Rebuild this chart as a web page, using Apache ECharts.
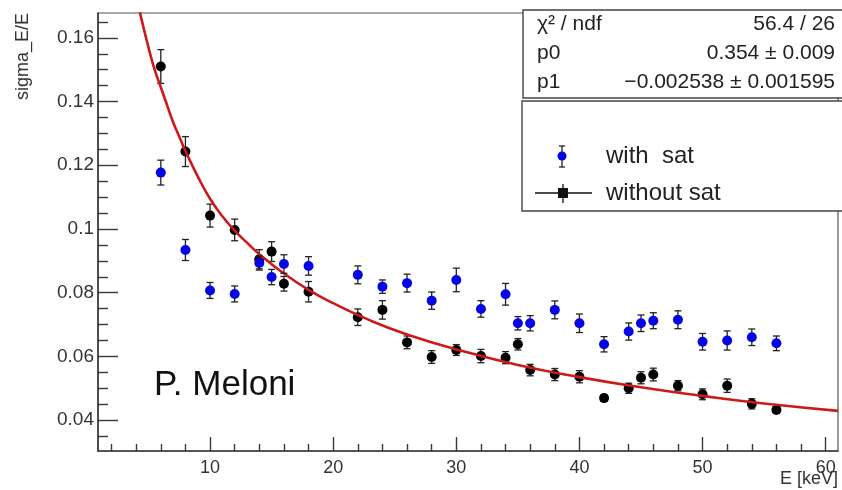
<!DOCTYPE html>
<html>
<head>
<meta charset="utf-8">
<script src="https://cdn.jsdelivr.net/npm/echarts@6/dist/echarts.min.js"></script>
<style>
html,body{margin:0;padding:0;background:#fff;}
#c{width:842px;height:490px;}
</style>
</head>
<body>
<div id="c"></div>
<script>
// ---- data ----
const energies = [6, 8, 10, 12, 14, 15, 16, 18, 22, 24, 26, 28, 30, 32, 34, 35, 36, 38, 40, 42, 44, 45, 46, 48, 50, 52, 54, 56];
const withoutSat = [0.151, 0.1243, 0.1042, 0.0997, 0.0905, 0.0929, 0.0828, 0.0803, 0.0723, 0.0746, 0.0644, 0.0598, 0.0620, 0.0601, 0.0596, 0.0638, 0.0557, 0.0543, 0.0536, 0.0469, 0.0500, 0.0533, 0.0543, 0.0508, 0.0481, 0.0508, 0.0451, 0.0432];
const withoutSatErr = [0.0053, 0.0047, 0.0036, 0.0034, 0.003, 0.0031, 0.0023, 0.0032, 0.0026, 0.0029, 0.002, 0.002, 0.0017, 0.0021, 0.0019, 0.0018, 0.0018, 0.0019, 0.0019, 0.001, 0.0016, 0.0019, 0.002, 0.0016, 0.0017, 0.0021, 0.0016, 0.001];
const withSat = [0.1177, 0.0934, 0.0807, 0.0796, 0.0893, 0.0849, 0.0890, 0.0884, 0.0856, 0.0819, 0.0830, 0.0775, 0.0840, 0.0749, 0.0795, 0.0704, 0.0704, 0.0746, 0.0704, 0.0638, 0.0678, 0.0704, 0.0712, 0.0715, 0.0646, 0.0650, 0.0660, 0.0641];
const withSatErr = [0.0039, 0.0033, 0.0025, 0.0025, 0.0022, 0.0024, 0.0029, 0.0029, 0.0028, 0.0021, 0.0028, 0.0027, 0.0037, 0.0026, 0.0034, 0.0021, 0.0024, 0.0028, 0.0029, 0.0024, 0.0027, 0.0026, 0.0025, 0.0028, 0.0026, 0.003, 0.0026, 0.0023];
// fit curve
const fitE = [4.3, 5, 5.5, 6, 6.5, 7, 7.5, 8, 9, 10, 11, 12, 13, 14, 16, 18, 20, 23, 26, 30, 35, 40, 45, 50, 55, 61];
const fitV = [0.168, 0.157, 0.150, 0.1445, 0.139, 0.1335, 0.129, 0.1245, 0.1165, 0.1095, 0.104, 0.0995, 0.0957, 0.0921, 0.086, 0.0809, 0.0767, 0.0713, 0.0669, 0.0622, 0.0573, 0.0535, 0.0503, 0.0476, 0.0452, 0.0429];
// axis ticks
const xMajor = [10, 20, 30, 40, 50, 60];
const xMinor = [2, 4, 6, 8, 12, 14, 16, 18, 22, 24, 26, 28, 32, 34, 36, 38, 42, 44, 46, 48, 52, 54, 56, 58];
const yMajor = [0.04, 0.06, 0.08, 0.1, 0.12, 0.14, 0.16];
const yMinor = [0.035, 0.045, 0.05, 0.055, 0.065, 0.07, 0.075, 0.085, 0.09, 0.095, 0.105, 0.11, 0.115, 0.125, 0.13, 0.135, 0.145, 0.15, 0.155, 0.165];
const xRange = [0.9, 61];
const yRange = [0.0303, 0.1678];

const FONT = '"Liberation Sans", Arial, Helvetica, sans-serif';
const AX = '#3a3a3a';

function errItem(color) {
  return function (params, api) {
    const x = api.value(0), y = api.value(1), e = api.value(2);
    const t = api.coord([x, y + e]), b = api.coord([x, y - e]);
    const cap = 3.5;
    const st = { stroke: color, lineWidth: 1.3 };
    return {
      type: 'group',
      children: [
        { type: 'line', shape: { x1: t[0], y1: t[1], x2: b[0], y2: b[1] }, style: st },
        { type: 'line', shape: { x1: t[0] - cap, y1: t[1], x2: t[0] + cap, y2: t[1] }, style: st },
        { type: 'line', shape: { x1: b[0] - cap, y1: b[1], x2: b[0] + cap, y2: b[1] }, style: st }
      ]
    };
  };
}

const blackPts = energies.map((e, i) => [e, withoutSat[i], withoutSatErr[i]]);
const bluePts = energies.map((e, i) => [e, withSat[i], withSatErr[i]]);
const fitPts = fitE.map((e, i) => [e, fitV[i]]);

const chart = echarts.init(document.getElementById('c'), null, { renderer: 'canvas' });
const baseX = {
  type: 'value', min: xRange[0], max: xRange[1], position: 'bottom',
  splitLine: { show: false }
};
const baseY = {
  type: 'value', min: yRange[0], max: yRange[1], position: 'left',
  splitLine: { show: false }
};
chart.setOption({
  animation: false,
  backgroundColor: '#ffffff',
  grid: { left: 98, right: 4, top: 13, bottom: 39, show: true, borderColor: '#555', borderWidth: 1.2, backgroundColor: 'transparent' },
  xAxis: [
    Object.assign({}, baseX, {
      axisLine: { show: true, lineStyle: { color: AX, width: 1.6 } },
      axisTick: { show: true, inside: true, length: 14, customValues: xMajor, lineStyle: { color: AX, width: 1.4 } },
      axisLabel: { show: true, customValues: xMajor, margin: 8, fontSize: 18, color: '#333', fontFamily: FONT }
    }),
    Object.assign({}, baseX, {
      axisLine: { show: false },
      axisTick: { show: true, inside: true, length: 7, customValues: xMinor, lineStyle: { color: AX, width: 1.4 } },
      axisLabel: { show: false }
    })
  ],
  yAxis: [
    Object.assign({}, baseY, {
      axisLine: { show: true, lineStyle: { color: AX, width: 1.6 } },
      axisTick: { show: true, inside: true, length: 20, customValues: yMajor, lineStyle: { color: AX, width: 1.4 } },
      axisLabel: { show: true, customValues: yMajor, margin: 4, fontSize: 19, color: '#333', fontFamily: FONT }
    }),
    Object.assign({}, baseY, {
      axisLine: { show: false },
      axisTick: { show: true, inside: true, length: 10, customValues: yMinor, lineStyle: { color: AX, width: 1.4 } },
      axisLabel: { show: false }
    })
  ],
  series: [
    { type: 'custom', name: 'errBlack', renderItem: errItem('#222'), data: blackPts, encode: { x: 0, y: 1 }, z: 2 },
    { type: 'scatter', name: 'without sat', data: blackPts, symbol: 'circle', symbolSize: 10, itemStyle: { color: '#000', opacity: 1 }, z: 3 },
    { type: 'line', name: 'fit', data: fitPts, smooth: 0.5, showSymbol: false, symbol: 'none', lineStyle: { color: '#cc1a1a', width: 2.6 }, z: 4 },
    { type: 'custom', name: 'errBlue', renderItem: errItem('#222'), data: bluePts, encode: { x: 0, y: 1 }, z: 5 },
    { type: 'scatter', name: 'with sat', data: bluePts, symbol: 'circle', symbolSize: 10, itemStyle: { color: '#0505e6', opacity: 1 }, z: 6 }
  ],
  graphic: [
    // y axis title
    { type: 'text', x: 23, y: 13, rotation: Math.PI / 2, z: 50,
      style: { text: 'sigma_E/E', fontSize: 18, fontFamily: FONT, fill: '#333', align: 'right', verticalAlign: 'middle' } },
    // x axis title
    { type: 'text', x: 838, y: 479, z: 50,
      style: { text: 'E [keV]', fontSize: 18, fontFamily: FONT, fill: '#333', align: 'right', verticalAlign: 'middle' } },
    // author annotation
    { type: 'text', x: 154, y: 385, z: 50,
      style: { text: 'P. Meloni', fontSize: 35, fontFamily: FONT, fill: '#111', align: 'left', verticalAlign: 'middle' } },
    // stats box
    { type: 'rect', z: 60, shape: { x: 523, y: 10, width: 330, height: 88 }, style: { fill: '#fff', stroke: '#444', lineWidth: 1.4 } },
    { type: 'text', z: 61, x: 537, y: 24, style: { text: 'χ² / ndf', fontSize: 21, fontFamily: FONT, fill: '#222', align: 'left', verticalAlign: 'middle' } },
    { type: 'text', z: 61, x: 835, y: 24, style: { text: '56.4 / 26', fontSize: 21, fontFamily: FONT, fill: '#222', align: 'right', verticalAlign: 'middle' } },
    { type: 'text', z: 61, x: 537, y: 53, style: { text: 'p0', fontSize: 21, fontFamily: FONT, fill: '#222', align: 'left', verticalAlign: 'middle' } },
    { type: 'text', z: 61, x: 835, y: 53, style: { text: '0.354 ± 0.009', fontSize: 21, fontFamily: FONT, fill: '#222', align: 'right', verticalAlign: 'middle' } },
    { type: 'text', z: 61, x: 537, y: 82, style: { text: 'p1', fontSize: 21, fontFamily: FONT, fill: '#222', align: 'left', verticalAlign: 'middle' } },
    { type: 'text', z: 61, x: 835, y: 82, style: { text: '−0.002538 ± 0.001595', fontSize: 21, fontFamily: FONT, fill: '#222', align: 'right', verticalAlign: 'middle' } },
    // legend box
    { type: 'rect', z: 60, shape: { x: 522, y: 101, width: 330, height: 110 }, style: { fill: '#fff', stroke: '#444', lineWidth: 1.4 } },
    { type: 'line', z: 61, shape: { x1: 562, y1: 146, x2: 562, y2: 167 }, style: { stroke: '#222', lineWidth: 1.3 } },
    { type: 'line', z: 61, shape: { x1: 559, y1: 146, x2: 565, y2: 146 }, style: { stroke: '#222', lineWidth: 1.3 } },
    { type: 'line', z: 61, shape: { x1: 559, y1: 167, x2: 565, y2: 167 }, style: { stroke: '#222', lineWidth: 1.3 } },
    { type: 'circle', z: 62, shape: { cx: 562, cy: 156, r: 4.5 }, style: { fill: '#0505e6' } },
    { type: 'text', z: 61, x: 606, y: 156, style: { text: 'with  sat', fontSize: 24, fontFamily: FONT, fill: '#222', align: 'left', verticalAlign: 'middle' } },
    { type: 'line', z: 61, shape: { x1: 535, y1: 193, x2: 592, y2: 193 }, style: { stroke: '#111', lineWidth: 1.3 } },
    { type: 'line', z: 61, shape: { x1: 563, y1: 184, x2: 563, y2: 203 }, style: { stroke: '#111', lineWidth: 1.3 } },
    { type: 'rect', z: 62, shape: { x: 558, y: 188, width: 10, height: 10 }, style: { fill: '#111' } },
    { type: 'text', z: 61, x: 606, y: 193, style: { text: 'without sat', fontSize: 24, fontFamily: FONT, fill: '#222', align: 'left', verticalAlign: 'middle' } }
  ]
});
</script>
</body>
</html>
